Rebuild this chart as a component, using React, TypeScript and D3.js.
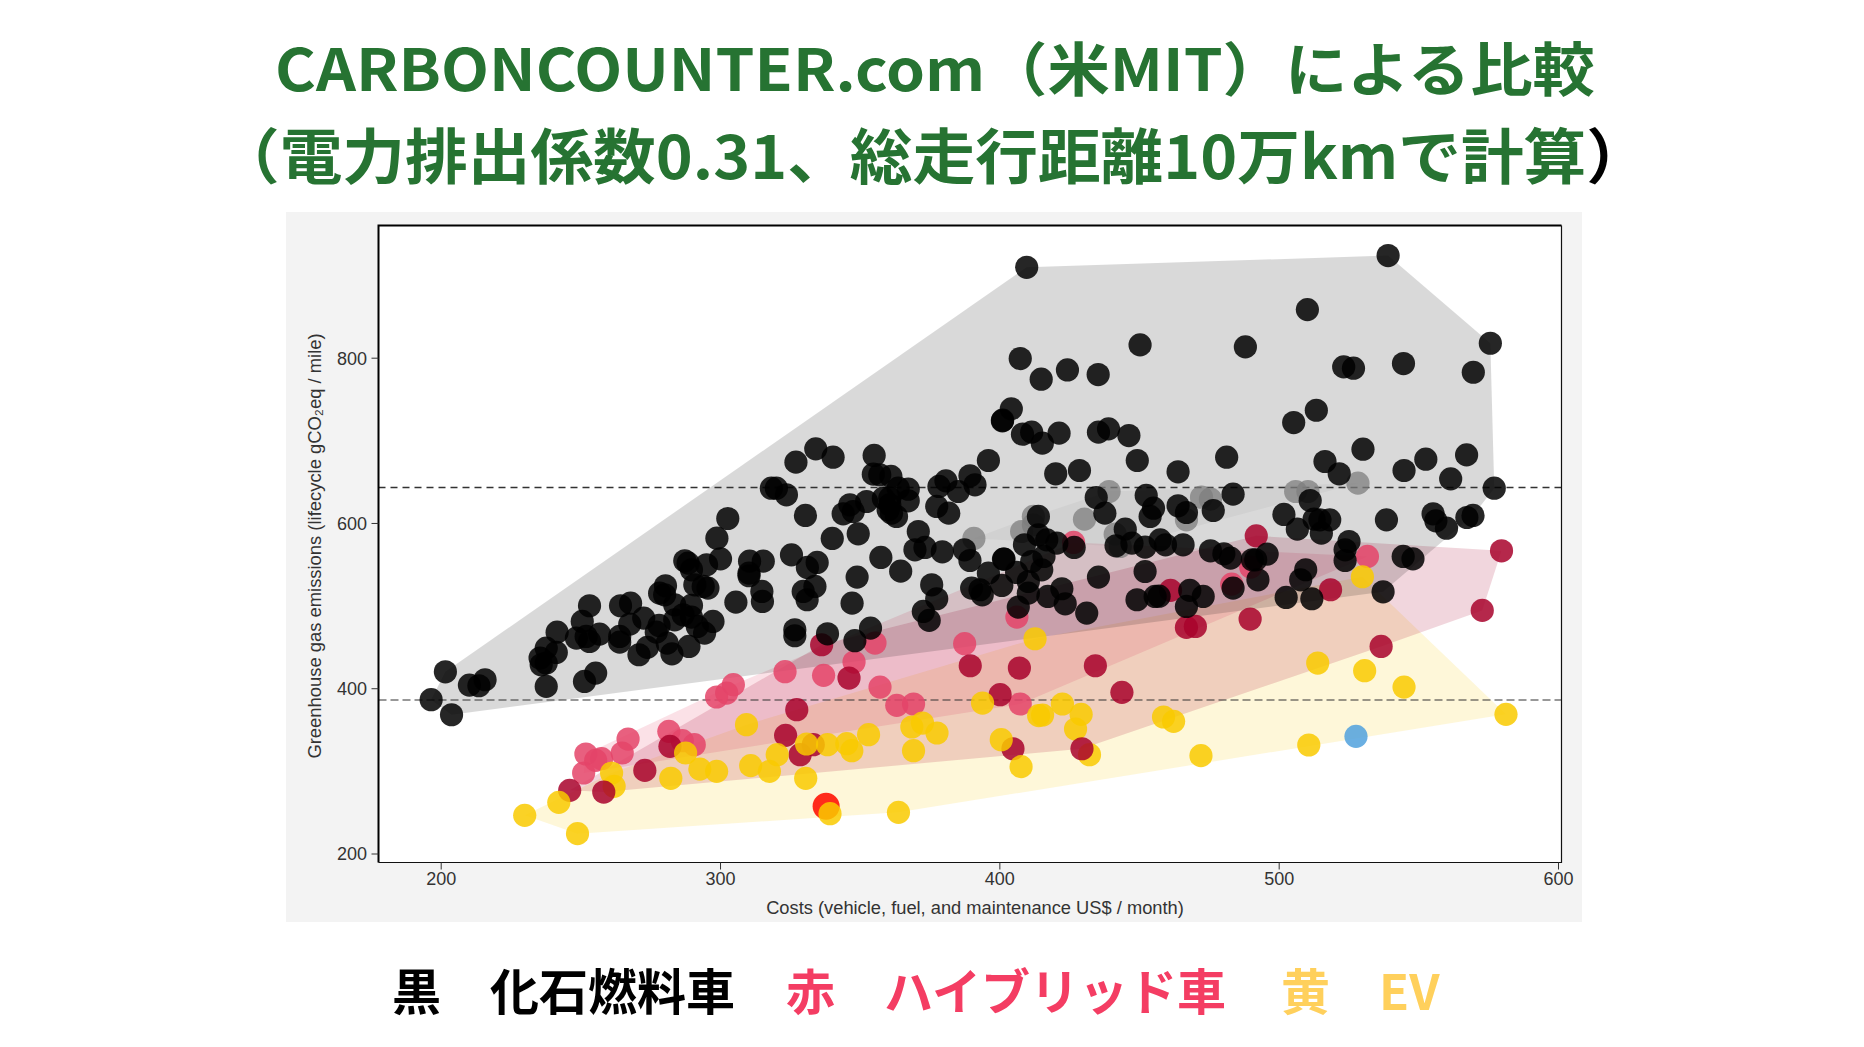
import React from "react";
import * as d3 from "d3";

type P = [number, number];

const titleLine1 = "CARBONCOUNTER.com（米MIT）による比較";
const titleLine2 = "（電力排出係数0.31、総走行距離10万kmで計算";
const titleClose = "）";
const xLabel = "Costs (vehicle, fuel, and maintenance US$ / month)";
const yLabel = "Greenhouse gas emissions (lifecycle gCO₂eq / mile)";
const xTicks = [200, 300, 400, 500, 600];
const yTicks = [200, 400, 600, 800];
const refLines = [643.5, 386.3];

const black: P[] = [
  [196.4,386.7],[203.7,368.5],[201.5,420.5],[210.1,404.4],[213.5,403.6],[215.7,410.9],[237.6,402.8],[251.3,408.8],[255.3,418.9],
  [235.4,437.1],[237.6,449.2],[241.2,443.9],[235.8,429],[237.6,431],[241.5,468.5],[248.4,461.3],[250.5,481.4],[253.1,500.4],
  [251.9,463.3],[253.1,457.2],[256.7,466.1],[264.2,500.4],[267.8,503.6],[263.9,463.3],[263.9,456.4],[267.5,478.2],[272.5,485.5],
  [270.8,441.1],[273.8,450],[277,468.5],[278,476.6],[280.9,455.2],[282.6,442.3],[288.7,451.2],[278.2,515.7],[280.3,524.6],
  [280,513.7],[283.6,501.6],[283.6,483.4],[286.6,489.5],[289.6,500.8],[289.6,486.7],[294.3,467.3],[291.7,475.4],[297.3,481.4],
  [287.2,554.8],[288.4,552],[289.6,543.9],[295,550],[300,557.2],[290.8,525.8],[293.8,523.8],[295.5,521.8],[298.7,582.2],
  [302.6,606],[310.4,554.4],[315.3,554.4],[310.2,539.9],[310.2,536.7],[305.5,504.8],[314.8,517.7],[315,505.6],[325.4,562],
  [318.2,642.7],[320,642.7],[323.6,634.7],
  [327,674.2],[334.1,690.3],[340.3,680.2],[355,682.3],[354.7,659.7],[357,658.9],[361,656.9],[330.4,609.7],[343.9,611.7],
  [346.3,622.6],[347.5,614.5],[352.3,626.6],[340,581.9],[349.3,587.5],[363.6,642.7],[367.2,641.5],[358.3,630.6],[360.6,630.6],
  [367.2,627.4],[360,616.5],[360.6,622.6],[363,608.5],[361.2,612.5],[377.4,620.6],[381.7,612.5],[378.2,644.8],[380.7,651.6],
  [385.1,638.7],[389.3,657.7],[391.1,646.8],[395.9,676.2],[400.9,724.2],[408.1,708],[411.4,710.5],[415.2,697.2],[421.2,709.3],
  [435.3,710.5],[438.9,714.5],[446.2,706.4],[449.2,676.2],[420,660.1],[428.5,664.1],[434.5,631.4],[437.6,612.5],[452.4,633.9],
  [455,618.5],[453.8,608.5],[413.8,608.5],[370.8,590.3],[373.2,571],[369.6,568.1],[379.4,565.7],[387.3,568.1],[389.3,555.2],
  [334.6,552.8],[331.1,546.8],[357.4,558.9],[364.5,542.3],[348.9,535.1],[333.8,523.8],[329.6,517.7],[331,507.7],
  [347.1,503.6],[375.6,525.8],[377.4,508.9],[372.6,493.5],[374.7,482.7],[326.6,471.4],[326.6,464.1],[338.3,466.5],[348.1,458.1],
  [353.7,473.4],[413.8,586.3],[408.8,574.2],[416.8,580.2],[420.4,576.2],[401.5,556.9],[401.3,556.9],[415.8,560.1],[411.4,554],
  [415,543.9],[406,540.7],[410.2,529.8],[395.9,539.9],[400.7,525],[389.9,521.8],[392.9,519.8],[393.7,513.7],[410.2,515.7],
  [417.2,511.7],[422.2,521],[423.4,502.8],[431.1,491.5],[406.6,498.8],[426.6,571],[435.3,535.1],[452,541.9],[449.1,507.7],
  [455.6,511.7],[441.6,573],[444.9,593.1],[447.3,576.2],[452,571.4],[457.4,580.2],
  [463.8,662.5],[481.2,680.2],[516.4,675],[521.5,660.1],[530,689.9],[544.7,664.1],[552.5,677.8],[567.1,683],[561.4,654],
  [577,642.7],[483.5,635.5],[476.4,615.7],[463.8,621.4],[466.8,613.3],[501.7,610.9],[511.1,627.8],[506.5,593.1],[512.5,605.2],
  [514.6,604.4],[518.1,604.4],[515.1,588.3],[525,578.2],[523.6,568.1],[523.6,555.2],[538.4,604.4],[555.1,611.7],[556.1,603.2],
  [559.9,594.3],[567.2,607.2],[569.4,609.7],[459.3,574.2],[465.6,574.2],[475.4,566.9],[480.2,563.3],[482.6,558.1],
  [490.4,556],[491.6,556],[495.7,562.9],[492.4,531.8],[509.5,544],[507.7,531.8],[502.5,510.5],[511.7,508.9],[537.2,517.3],
  [544.4,560.1],[547.9,557.2],[468,519],[472.8,511.7],[466.8,499.6],[483.5,521.8],[457,512],
  [409.6,910],[539,924.2],[510.1,858.8],[575.6,818.1],[450.2,816.1],[487.9,813.7],[407.3,799.6],[424.2,785.8],[435.2,780.2],
  [414.8,774.6],[523.1,789.5],[526.6,787.9],[544.5,793.5],[569.5,783],[404.1,738.7],[401,725],[505.2,722.1],[513.3,737],
];

const gray: P[] = [
  [390.7,581.9],[412,608.5],[407.8,590.3],[412,598.4],[430.3,605.2],[439.1,638.7],[441.3,587.1],[443.1,572.2],
  [472.2,631.8],[475.4,629.4],[466.8,604.4],[505.9,638.7],[510.3,638.7],[528.2,648.8],
];

const pink: P[] = [
  [323.1,420.6],[336.9,416.2],[347.8,432.3],[357.1,402],[363.1,379.9],[369.1,381.5],[387.4,454.5],[355.3,455.3],[407.3,381.5],
  [304.6,404.9],[302.2,394.8],[298.6,390],[266.9,339.1],[264.8,322.2],[281.5,348.4],[286.3,337.1],[290.6,332.3],[251.8,321],
  [257.4,315.3],[255.3,313.3],[251,298],[426.4,577],[406.1,486.7],[531.6,560.1],[489.8,547.2],[483,526.6],
];

const crimsonEarly: P[] = [
  [246,277],[272.9,301.2],[281.9,330.3],[327.3,374.6],[323.3,343.6],[333.2,332.3],[328.5,320.2],[346,412.9],[336.2,453.2],
  [389.4,427.8],[407,425],[400.1,392.8],[404.7,327.4],[434.2,427.8],[443.7,395.6],[536.5,451.2],
];

const crimsonLate: P[] = [
  [258.2,275],[429.4,327.4],[491.8,585],[579.6,566.9],[572.7,494.8],[518.4,519.8],[461.1,519],[466.8,474.2],[470,475.4],[489.6,484.3],
];

const yellow: P[] = [
  [229.9,246.8],[242.1,262.5],[248.8,224.6],[261,298],[261.9,281.9],[287.5,322.2],[282.2,291.6],[292.6,302.8],[298.6,300],
  [309.3,356.5],[310.8,306.9],[320.3,320.2],[317.5,300],[330.5,291.6],[330.8,333.1],[338.3,332.3],[345.2,333.5],[347,325],
  [353,344.4],[368.5,353.7],[372.3,358.5],[377.5,346.4],[369.1,325],[393.8,382.7],[400.5,338.3],[407.6,305.7],[413.9,367.4],
  [339.2,248.8],[363.7,250.4],[412.6,460.5],[415.3,368.2],[422.4,381.5],[429.1,369],[427.1,351.2],[432.1,320.2],[458.6,365.8],
  [462.2,360.5],[472,319],[510.6,331.9],[513.8,431.1],[530.6,421.8],[544.7,402],[581.2,369],[529.8,535.5],
];

const red: P[] = [[337.8, 257.7]];
const blue: P[] = [[527.5, 342.4]];

const WIDTH = 1864;
const HEIGHT = 1047;
const R = 11.6;
const sans = "'Liberation Sans', Arial, sans-serif";
const cjk = "'Noto Sans CJK JP', sans-serif";

const xScale = d3.scaleLinear().domain([200, 600]).range([441.2, 1558.5]);
const yScale = d3.scaleLinear().domain([200, 800]).range([854, 358.2]);

const box = { left: 378.5, right: 1561.5, top: 225.5, bottom: 862.5 };

function hullPath(points: P[]): string {
  const hull = d3.polygonHull(points.map((p) => [xScale(p[0]), yScale(p[1])] as [number, number]));
  return hull ? (d3.line()(hull) as string) + "Z" : "";
}

function Dots({ data, fill, opacity = 0.85, r = R }: { data: P[]; fill: string; opacity?: number; r?: number }) {
  return (
    <g fill={fill} fillOpacity={opacity}>
      {data.map((p, i) => (
        <circle key={i} cx={xScale(p[0])} cy={yScale(p[1])} r={r} />
      ))}
    </g>
  );
}

export default function App() {
  const crimson = [...crimsonEarly, ...crimsonLate];
  return (
    <svg
      width={WIDTH}
      height={HEIGHT}
      viewBox={`0 0 ${WIDTH} ${HEIGHT}`}
      style={{ position: "absolute", left: 0, top: 0, display: "block", background: "#fff" }}
    >
      <text x={935} y={91} textAnchor="middle" fontFamily={cjk} fontWeight={700} fontSize={58} fill="#267332" textLength={1320} lengthAdjust="spacingAndGlyphs">
        {titleLine1}
      </text>
      <text x={933} y={179} textAnchor="middle" fontFamily={cjk} fontWeight={700} fontSize={60} fill="#267332" textLength={1432} lengthAdjust="spacingAndGlyphs">
        {titleLine2}
        <tspan fill="#000">{titleClose}</tspan>
      </text>

      <rect x={286} y={212} width={1296} height={710} fill="#f3f3f3" />
      <rect x={box.left} y={box.top} width={box.right - box.left} height={box.bottom - box.top} fill="#fff" />

      <path d={hullPath(yellow)} fill="#f9ca00" fillOpacity={0.15} />
      <path d={hullPath(pink)} fill="#e44469" fillOpacity={0.16} />
      <path d={hullPath(crimson)} fill="#a8022b" fillOpacity={0.16} />
      <path d={hullPath(black)} fill="#000" fillOpacity={0.15} />
      <path d={hullPath(gray)} fill="#555" fillOpacity={0.06} />

      {refLines.map((v, i) => (
        <line
          key={v}
          x1={box.left}
          x2={box.right}
          y1={yScale(v)}
          y2={yScale(v)}
          stroke="#333"
          strokeWidth={i === 0 ? 1.6 : 1.1}
          strokeDasharray={i === 0 ? "7 5" : "8 4"}
        />
      ))}

      <Dots data={pink} fill="#e44469" />
      <Dots data={crimsonEarly} fill="#a8022b" />
      <Dots data={red} fill="#ff2010" opacity={0.95} r={13.5} />
      <Dots data={yellow} fill="#f9ca00" />
      <Dots data={crimsonLate} fill="#a8022b" />
      <Dots data={gray} fill="#7d7d7d" opacity={0.75} />
      <Dots data={black} fill="#000" />
      <Dots data={blue} fill="#50a1dd" />

      <path d={`M${box.left},${box.bottom}V${box.top}H${box.right}`} fill="none" stroke="#000" strokeWidth={2} />
      <path d={`M${box.left},${box.bottom}H${box.right}V${box.top}`} fill="none" stroke="#111" strokeWidth={1.2} />

      {xTicks.map((t) => (
        <g key={t}>
          <line x1={xScale(t)} x2={xScale(t)} y1={box.bottom} y2={box.bottom + 7} stroke="#333" strokeWidth={1} />
          <text x={xScale(t)} y={885} textAnchor="middle" fontFamily={sans} fontSize={18} fill="#333">
            {t}
          </text>
        </g>
      ))}
      {yTicks.map((t) => (
        <g key={t}>
          <line x1={box.left - 7} x2={box.left} y1={yScale(t)} y2={yScale(t)} stroke="#333" strokeWidth={1} />
          <text x={367} y={yScale(t) + 6.3} textAnchor="end" fontFamily={sans} fontSize={18} fill="#333">
            {t}
          </text>
        </g>
      ))}
      <text x={975} y={919} dy={-5} textAnchor="middle" fontFamily={sans} fontSize={18.3} fill="#333">
        {xLabel}
      </text>
      <text transform="translate(321,546) rotate(-90)" textAnchor="middle" fontFamily={sans} fontSize={18.4} fill="#333">
        {yLabel}
      </text>

      <g fontFamily={cjk} fontWeight={700} fontSize={49}>
        <text x={392} y={1010} fill="#000">黒　化石燃料車</text>
        <text x={786} y={1010} fill="#f43d63">赤　ハイブリッド車</text>
        <text x={1281} y={1010} fill="#ffd05c">黄　EV</text>
      </g>
    </svg>
  );
}
